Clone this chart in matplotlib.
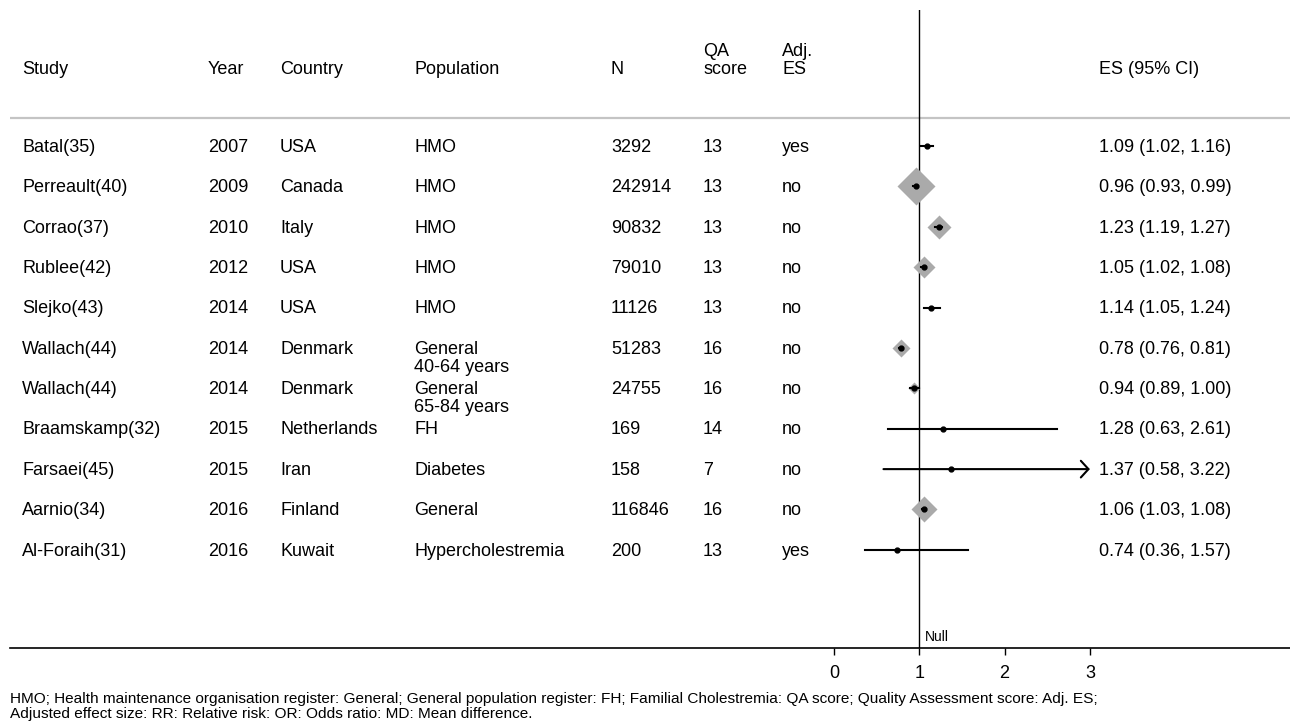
import numpy as np
import matplotlib.pyplot as plt

plt.rcParams['font.family'] = ['Liberation Sans', 'DejaVu Sans']

studies = ['Batal(35)', 'Perreault(40)', 'Corrao(37)', 'Rublee(42)', 'Slejko(43)',
           'Wallach(44)', 'Wallach(44)', 'Braamskamp(32)', 'Farsaei(45)',
           'Aarnio(34)', 'Al-Foraih(31)']
years = ['2007', '2009', '2010', '2012', '2014', '2014', '2014', '2015', '2015',
         '2016', '2016']
countries = ['USA', 'Canada', 'Italy', 'USA', 'USA', 'Denmark', 'Denmark',
             'Netherlands', 'Iran', 'Finland', 'Kuwait']
populations = ['HMO', 'HMO', 'HMO', 'HMO', 'HMO', 'General\n40-64 years',
               'General\n65-84 years', 'FH', 'Diabetes', 'General',
               'Hypercholestremia']
n_sizes = ['3292', '242914', '90832', '79010', '11126', '51283', '24755',
           '169', '158', '116846', '200']
qa_scores = ['13', '13', '13', '13', '13', '16', '16', '14', '7', '16', '13']
adjusted = ['yes', 'no', 'no', 'no', 'no', 'no', 'no', 'no', 'no', 'no', 'yes']
es = [1.09, 0.96, 1.23, 1.05, 1.14, 0.78, 0.94, 1.28, 1.37, 1.06, 0.74]
ci_lo = [1.02, 0.93, 1.19, 1.02, 1.05, 0.76, 0.89, 0.63, 0.58, 1.03, 0.36]
ci_hi = [1.16, 0.99, 1.27, 1.08, 1.24, 0.81, 1.00, 2.61, 3.22, 1.08, 1.57]
weights = [0.3, 30, 11.2, 10.2, 0.2, 6.9, 3.0, 0, 0, 15.3, 0]
xticks = [0, 1, 2, 3]

headers = [('Study', 22), ('Year', 208), ('Country', 280), ('Population', 414),
           ('N', 611), ('QA\nscore', 703), ('Adj.\nES', 782), ('ES (95% CI)', 1099)]

fig = plt.figure(figsize=(12.9, 7.25), dpi=100)
ax = fig.add_axes([10 / 1290, 77 / 725, 1280 / 1290, 638 / 725])
ax.set_xlim(-9.66, 5.346)
ax.set_ylim(12.43, -3.37)
for s in ['top', 'left', 'right']:
    ax.spines[s].set_visible(False)
ax.spines['bottom'].set_linewidth(1.2)
ax.set_yticks([])
ax.set_xticks(xticks)
ax.tick_params(axis='x', length=5, width=1, pad=7, labelsize=13)

tr = ax.get_yaxis_transform()
fs = 13
line_gap = 0.45
dy = 0.03


def put(x_px, y, txt, **kw):
    lines = txt.split('\n')
    for k, ln in enumerate(lines):
        ax.text((x_px - 10) / 1280, y + dy + k * line_gap, ln, transform=tr,
                fontsize=fs, va='center', ha='left', **kw)


# header
hy = -1.93
for txt, xp in headers:
    lines = txt.split('\n')
    put(xp, hy - (len(lines) - 1) * line_gap, txt)
ax.axhline(-0.69, color='#c4c4c4', lw=1.6)

# null line
ax.axvline(1, color='black', lw=1.0)
ax.text(1.07, 12.15, 'Null', fontsize=10, va='center', ha='left')

xmax = xticks[-1]
for i in range(len(studies)):
    put(22, i, studies[i])
    put(208, i, years[i])
    put(280, i, countries[i])
    put(414, i, populations[i])
    put(611, i, n_sizes[i])
    put(703, i, qa_scores[i])
    put(782, i, adjusted[i])
    put(1099, i, f'{es[i]:.2f} ({ci_lo[i]:.2f}, {ci_hi[i]:.2f})')

    if weights[i] > 0:
        ax.plot(es[i], i, marker='D', color='#aaaaaa', mec='none',
                ms=3.5 * np.sqrt(weights[i]), zorder=3)
    if ci_hi[i] > xmax:
        ax.annotate('', xy=(xmax, i), xytext=(ci_lo[i], i),
                    arrowprops=dict(arrowstyle='->,head_length=0.55,head_width=0.6',
                                    lw=1.5, color='black', mutation_scale=10,
                                    shrinkA=0, shrinkB=0), zorder=4)
    else:
        ax.plot([ci_lo[i], ci_hi[i]], [i, i], color='black', lw=1.5, zorder=4)
    ax.plot(es[i], i, 'o', color='black', ms=3.5, zorder=5)

fig.text(10 / 1290, 1 - 699 / 725,
         'HMO; Health maintenance organisation register: General; General population register: '
         'FH; Familial Cholestremia: QA score; Quality Assessment score: Adj. ES;',
         fontsize=11.1, va='center', ha='left')
fig.text(10 / 1290, 1 - 714 / 725,
         'Adjusted effect size: RR: Relative risk: OR: Odds ratio: MD: Mean difference.',
         fontsize=11.1, va='center', ha='left')

fig.savefig('out.png', dpi=100)
